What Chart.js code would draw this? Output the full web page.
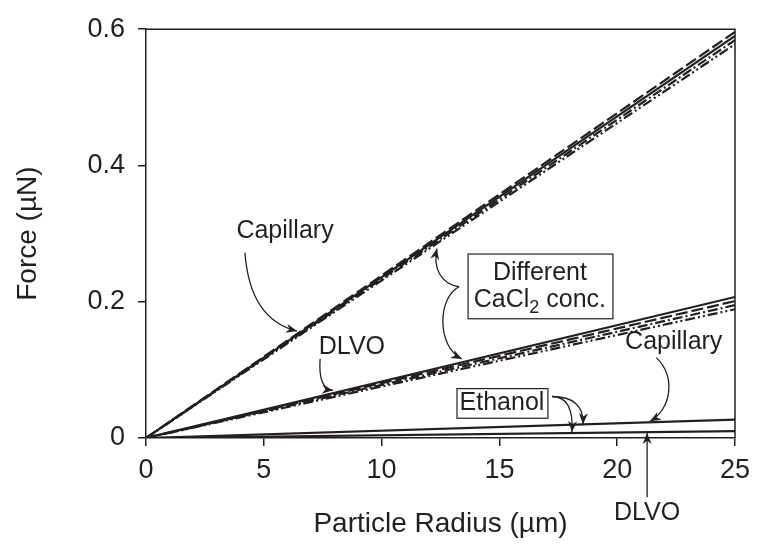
<!DOCTYPE html>
<html>
<head>
<meta charset="utf-8">
<script src="https://cdn.jsdelivr.net/npm/chart.js@4.4.1/dist/chart.umd.min.js"></script>
<style>
  html, body { margin: 0; padding: 0; background: #ffffff; }
  #wrap { width: 761px; height: 550px; }
</style>
</head>
<body>
<div id="wrap"><canvas id="c" width="761" height="550"></canvas></div>
<script>
// Particle radius (µm) at the ends of each straight force line
const radius = [0, 25];

// Capillary force (µN), one series per CaCl2 concentration
const capillaryA = [0, 0.590];
const capillaryB = [0, 0.596];
const capillaryC = [0, 0.584];
const capillaryD = [0, 0.578];

// DLVO force (µN), one series per CaCl2 concentration
const dlvoA = [0, 0.207];
const dlvoB = [0, 0.201];
const dlvoC = [0, 0.195];
const dlvoD = [0, 0.189];

// Ethanol medium
const ethanolCapillary = [0, 0.027];
const ethanolDlvo = [0, 0.010];

const xTicks = [0, 5, 10, 15, 20, 25];
const yTicks = [0, 0.2, 0.4, 0.6];

const INK = '#231f20';
const FONT = '"Liberation Sans", Arial, sans-serif';

const toPoints = ys => radius.map((r, i) => ({ x: r, y: ys[i] }));
const series = (label, ys, dash) => ({
  label, data: toPoints(ys), borderColor: INK, borderWidth: 2.2,
  borderDash: dash, pointRadius: 0, fill: false, tension: 0
});

const SOLID = [], DASH = [12, 4], DASHDOT = [10, 3, 2, 3], DASHDOTDOT = [10, 3, 2, 3, 2, 3];

// Callout texts, boxes and arrows, placed in data units (µm, µN)
const notes = {
  texts: [
    { t: 'Capillary', x: 5.90, y: 0.304 },
    { t: 'DLVO', x: 8.74, y: 0.133 },
    { t: 'Different', x: 16.72, y: 0.242 },
    { t: 'CaCl2', x: 16.72, y: 0.203, sub: true },
    { t: 'Capillary', x: 22.40, y: 0.141 },
    { t: 'Ethanol', x: 15.11, y: 0.0507 },
    { t: 'DLVO', x: 21.27, y: -0.110 }
  ],
  boxes: [
    { x0: 13.67, y0: 0.270, x1: 19.82, y1: 0.175 },
    { x0: 13.20, y0: 0.0725, x1: 17.06, y1: 0.029 }
  ],
  arrows: [
    { p: [[4.20, 0.272], [4.41, 0.174], [6.41, 0.157]] },
    { p: [[7.39, 0.116], [7.30, 0.072], [7.94, 0.070]] },
    { p: [[13.29, 0.222], [12.48, 0.226], [12.18, 0.251], [12.35, 0.278]] },
    { p: [[13.29, 0.222], [12.39, 0.207], [12.31, 0.135], [13.41, 0.116]] },
    { p: [[21.66, 0.118], [22.50, 0.090], [22.30, 0.042], [21.39, 0.0246]] },
    { p: [[17.23, 0.0609], [18.17, 0.0609], [18.08, 0.0087]] },
    { p: [[17.23, 0.0609], [18.59, 0.0609], [18.55, 0.0203]] },
    { p: [[21.27, -0.087], [21.27, 0.0072]] }
  ]
};

const calloutPlugin = {
  id: 'callouts',
  afterDraw(chart) {
    const { ctx, chartArea: a, scales: { x, y } } = chart;
    const P = (v) => [x.getPixelForValue(v[0]), y.getPixelForValue(v[1])];
    ctx.save();
    // frame on top and right
    ctx.strokeStyle = INK;
    ctx.lineWidth = 1.5;
    ctx.beginPath();
    ctx.moveTo(a.left, a.top);
    ctx.lineTo(a.right, a.top);
    ctx.lineTo(a.right, a.bottom);
    ctx.stroke();

    // boxes
    ctx.lineWidth = 1.2;
    notes.boxes.forEach(b => {
      const [x0, y0] = P([b.x0, b.y0]);
      const [x1, y1] = P([b.x1, b.y1]);
      ctx.fillStyle = '#ffffff';
      ctx.fillRect(x0, y0, x1 - x0, y1 - y0);
      ctx.strokeRect(x0, y0, x1 - x0, y1 - y0);
    });

    // texts
    ctx.fillStyle = INK;
    ctx.textBaseline = 'middle';
    notes.texts.forEach(n => {
      const [px, py] = P([n.x, n.y]);
      if (n.sub) {
        const main = 'CaCl', tail = ' conc.';
        ctx.font = '18px ' + FONT;
        const wSub = ctx.measureText('2').width;
        ctx.font = '25px ' + FONT;
        const wMain = ctx.measureText(main).width;
        const wTail = ctx.measureText(tail).width;
        let sx = px - (wMain + wSub + wTail) / 2;
        ctx.textAlign = 'left';
        ctx.fillText(main, sx, py);
        sx += wMain;
        ctx.font = '18px ' + FONT;
        ctx.fillText('2', sx, py + 8);
        sx += wSub;
        ctx.font = '25px ' + FONT;
        ctx.fillText(tail, sx, py);
      } else {
        ctx.font = '25px ' + FONT;
        ctx.textAlign = 'center';
        ctx.fillText(n.t, px, py);
      }
    });

    // arrows
    ctx.lineWidth = 1.3;
    notes.arrows.forEach(ar => {
      const pts = ar.p.map(P);
      ctx.beginPath();
      ctx.moveTo(pts[0][0], pts[0][1]);
      if (pts.length === 2) ctx.lineTo(pts[1][0], pts[1][1]);
      else if (pts.length === 3) ctx.quadraticCurveTo(pts[1][0], pts[1][1], pts[2][0], pts[2][1]);
      else ctx.bezierCurveTo(pts[1][0], pts[1][1], pts[2][0], pts[2][1], pts[3][0], pts[3][1]);
      ctx.stroke();
      const e = pts[pts.length - 1], b = pts[pts.length - 2];
      const ang = Math.atan2(e[1] - b[1], e[0] - b[0]);
      const L = 11, W = 4.5;
      ctx.beginPath();
      ctx.moveTo(e[0], e[1]);
      ctx.lineTo(e[0] - L * Math.cos(ang) + W * Math.sin(ang), e[1] - L * Math.sin(ang) - W * Math.cos(ang));
      ctx.lineTo(e[0] - L * 0.7 * Math.cos(ang), e[1] - L * 0.7 * Math.sin(ang));
      ctx.lineTo(e[0] - L * Math.cos(ang) - W * Math.sin(ang), e[1] - L * Math.sin(ang) + W * Math.cos(ang));
      ctx.closePath();
      ctx.fill();
    });
    ctx.restore();
  }
};

new Chart(document.getElementById('c'), {
  type: 'line',
  data: {
    datasets: [
      series('Capillary A', capillaryA, SOLID),
      series('Capillary B', capillaryB, DASH),
      series('Capillary C', capillaryC, DASHDOT),
      series('Capillary D', capillaryD, DASHDOTDOT),
      series('DLVO A', dlvoA, SOLID),
      series('DLVO B', dlvoB, DASH),
      series('DLVO C', dlvoC, DASHDOT),
      series('DLVO D', dlvoD, DASHDOTDOT),
      series('Ethanol capillary', ethanolCapillary, SOLID),
      series('Ethanol DLVO', ethanolDlvo, SOLID)
    ]
  },
  options: {
    responsive: false,
    animation: false,
    layout: { padding: { left: 0, right: 26, top: 24, bottom: 0 } },
    plugins: { legend: { display: false }, tooltip: { enabled: false } },
    scales: {
      x: {
        type: 'linear', min: 0, max: 25,
        afterFit(s) { s.height = 112; },
        afterBuildTicks(s) { s.ticks = xTicks.map(v => ({ value: v })); },
        border: { display: true, color: INK, width: 1.5 },
        grid: { drawOnChartArea: false, drawTicks: true, tickLength: 8, color: INK, lineWidth: 1.5 },
        ticks: { color: INK, font: { family: FONT, size: 27 }, padding: 8, maxRotation: 0 },
        title: { display: true, text: 'Particle Radius (µm)', color: INK,
                 font: { family: FONT, size: 28 }, padding: { top: 0, bottom: 9 } }
      },
      y: {
        type: 'linear', min: 0, max: 0.6,
        afterFit(s) { s.width = 146; },
        afterBuildTicks(s) { s.ticks = yTicks.map(v => ({ value: v })); },
        border: { display: true, color: INK, width: 1.5 },
        grid: { drawOnChartArea: false, drawTicks: true, tickLength: 8, color: INK, lineWidth: 1.5 },
        ticks: { color: INK, font: { family: FONT, size: 27 }, padding: 13,
                 callback: v => String(Math.round(v * 10) / 10) },
        title: { display: true, text: 'Force (µN)', color: INK,
                 font: { family: FONT, size: 28 }, padding: { top: 11, bottom: 0 } }
      }
    }
  },
  plugins: [calloutPlugin]
});
</script>
</body>
</html>
